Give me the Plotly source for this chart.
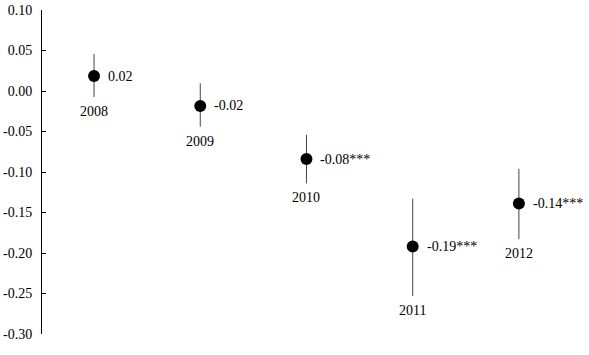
import plotly.graph_objects as go

years = [2008, 2009, 2010, 2011, 2012]
estimates = [0.0185, -0.0185, -0.084, -0.192, -0.139]
upper = [0.0457, 0.0095, -0.054, -0.133, -0.096]
lower = [-0.0074, -0.044, -0.114, -0.253, -0.183]
value_labels = ["0.02", "-0.02", "-0.08***", "-0.19***", "-0.14***"]
year_labels = ["2008", "2009", "2010", "2011", "2012"]
y_ticks = [0.10, 0.05, 0.00, -0.05, -0.10, -0.15, -0.20, -0.25, -0.30]

font_family = "Liberation Serif"

err_plus = [u - e for u, e in zip(upper, estimates)]
err_minus = [e - l for e, l in zip(estimates, lower)]

fig = go.Figure()
fig.add_trace(go.Scatter(
    x=years, y=estimates, mode="markers",
    marker=dict(size=12, color="black"),
    error_y=dict(type="data", symmetric=False, array=err_plus, arrayminus=err_minus,
                 width=0, thickness=1, color="#444444"),
    showlegend=False,
))

annotations = []
for yr, est, lo, vl, yl in zip(years, estimates, lower, value_labels, year_labels):
    annotations.append(dict(x=yr, y=est, xref="x", yref="y", text=vl, showarrow=False,
                            xanchor="left", yanchor="middle", xshift=12,
                            font=dict(family=font_family, size=14, color="black")))
    annotations.append(dict(x=yr, y=lo, xref="x", yref="y", text=yl, showarrow=False,
                            xanchor="center", yanchor="top", yshift=-5,
                            font=dict(family=font_family, size=14, color="black")))

fig.update_layout(
    width=589, height=355,
    margin=dict(l=42, r=0, t=10, b=21, autoexpand=False),
    paper_bgcolor="white", plot_bgcolor="white",
    font=dict(family=font_family, size=14, color="black"),
    xaxis=dict(range=[2007.51, 2012.66], visible=False, showgrid=False, zeroline=False,
               automargin=False),
    yaxis=dict(range=[-0.30, 0.10], tickvals=y_ticks,
               ticktext=[f"{v:.2f}" for v in y_ticks],
               showline=True, linecolor="black", linewidth=1,
               ticks="inside", ticklen=4, tickcolor="black",
               showgrid=False, zeroline=False, ticklabelstandoff=6, automargin=False,
               tickfont=dict(family=font_family, size=14, color="black")),
    annotations=annotations,
)

fig.write_html("out.html", config={"displayModeBar": False},
               post_script="document.body.style.margin='0';document.body.style.overflow='hidden';")
